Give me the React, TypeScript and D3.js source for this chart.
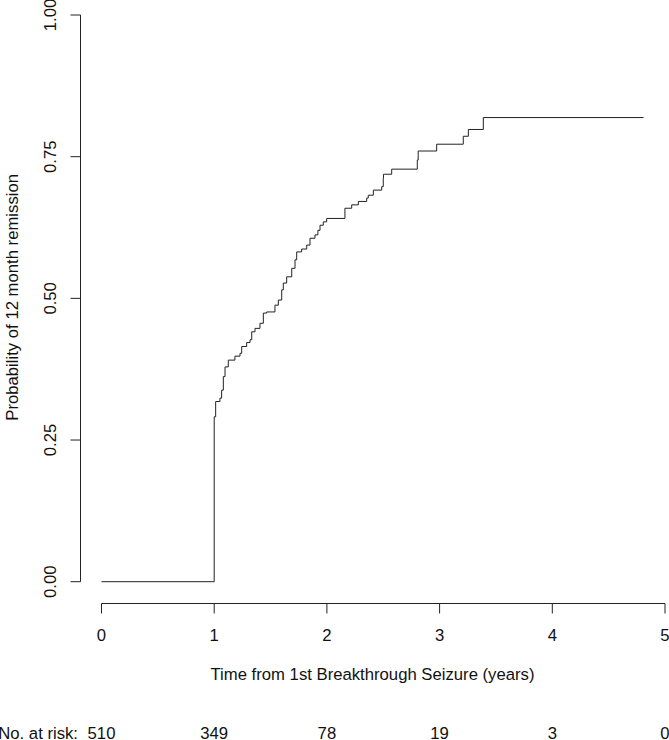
import React from "react";
import * as d3 from "d3";

const eventTimes = [0, 1.0, 1.013, 1.051, 1.066, 1.081, 1.096, 1.125, 1.184, 1.229, 1.244, 1.288, 1.318, 1.333, 1.362, 1.406, 1.436, 1.466, 1.539, 1.569, 1.599, 1.613, 1.643, 1.688, 1.717, 1.732, 1.776, 1.821, 1.85, 1.894, 1.92, 1.939, 1.968, 1.998, 2.16, 2.22, 2.279, 2.353, 2.367, 2.412, 2.486, 2.5, 2.502, 2.575, 2.802, 2.81, 2.974, 3.21, 3.255, 3.388];
const remission = [0, 0.291, 0.318, 0.324, 0.338, 0.362, 0.379, 0.391, 0.398, 0.403, 0.415, 0.422, 0.427, 0.441, 0.447, 0.456, 0.474, 0.476, 0.488, 0.497, 0.515, 0.527, 0.538, 0.553, 0.568, 0.582, 0.587, 0.594, 0.606, 0.612, 0.62, 0.629, 0.635, 0.641, 0.659, 0.665, 0.671, 0.677, 0.682, 0.691, 0.697, 0.712, 0.719, 0.728, 0.744, 0.76, 0.772, 0.786, 0.798, 0.819];
const endTime = 4.81;

const xTicks = [0, 1, 2, 3, 4, 5];
const yTicks = [0, 0.25, 0.5, 0.75, 1.0];
const atRisk = [510, 349, 78, 19, 3, 0];

const W = 669;
const H = 740;
const FONT = "Liberation Sans, Arial, sans-serif";
const FS = 16.7;

export default function App() {
  const x = d3.scaleLinear().domain([0, 5]).range([101.5, 665]);
  const y = d3.scaleLinear().domain([0, 1]).range([581.7, 15]);

  const pts: [number, number][] = eventTimes.map((t, i) => [t, remission[i]]);
  pts.push([endTime, remission[remission.length - 1]]);
  const line = d3
    .line<[number, number]>()
    .x((d) => x(d[0]))
    .y((d) => y(d[1]))
    .curve(d3.curveStepAfter);

  const axisY = 603.5;
  const yAxisX = 80.5;

  return (
    <svg
      width={W}
      height={H}
      style={{ position: "absolute", left: 0, top: 0, background: "#fff" }}
      fontFamily={FONT}
    >
      <rect x={0} y={0} width={W} height={H} fill="#fff" />
      <path d={line(pts) || ""} fill="none" stroke="#222" strokeWidth={1} />

      {/* y axis */}
      <line x1={yAxisX} x2={yAxisX} y1={y(0)} y2={y(1)} stroke="#222" />
      {yTicks.map((v) => (
        <g key={v}>
          <line x1={yAxisX} x2={yAxisX - 10} y1={y(v)} y2={y(v)} stroke="#222" />
          <text
            transform={`translate(56,${y(v)}) rotate(-90)`}
            textAnchor="middle"
            fontSize={FS}
            fill="#111"
          >
            {v.toFixed(2)}
          </text>
        </g>
      ))}
      <text
        transform={`translate(18,${y(0.5) - 1}) rotate(-90)`}
        textAnchor="middle"
        fontSize={FS}
        fill="#111"
      >
        Probability of 12 month remission
      </text>

      {/* x axis */}
      <line x1={x(0)} x2={x(5)} y1={axisY} y2={axisY} stroke="#222" />
      {xTicks.map((v) => (
        <g key={v}>
          <line x1={x(v)} x2={x(v)} y1={axisY} y2={axisY + 10} stroke="#222" />
          <text x={x(v)} y={641} textAnchor="middle" fontSize={FS} fill="#111">
            {v}
          </text>
        </g>
      ))}
      <text x={372.5} y={680} textAnchor="middle" fontSize={FS} fill="#111">
        Time from 1st Breakthrough Seizure (years)
      </text>

      {/* number at risk */}
      <text x={78} y={739} textAnchor="end" fontSize={FS} fill="#111">
        No. at risk:
      </text>
      {atRisk.map((n, i) => (
        <text key={i} x={x(xTicks[i])} y={739} textAnchor="middle" fontSize={FS} fill="#111">
          {n}
        </text>
      ))}
    </svg>
  );
}
